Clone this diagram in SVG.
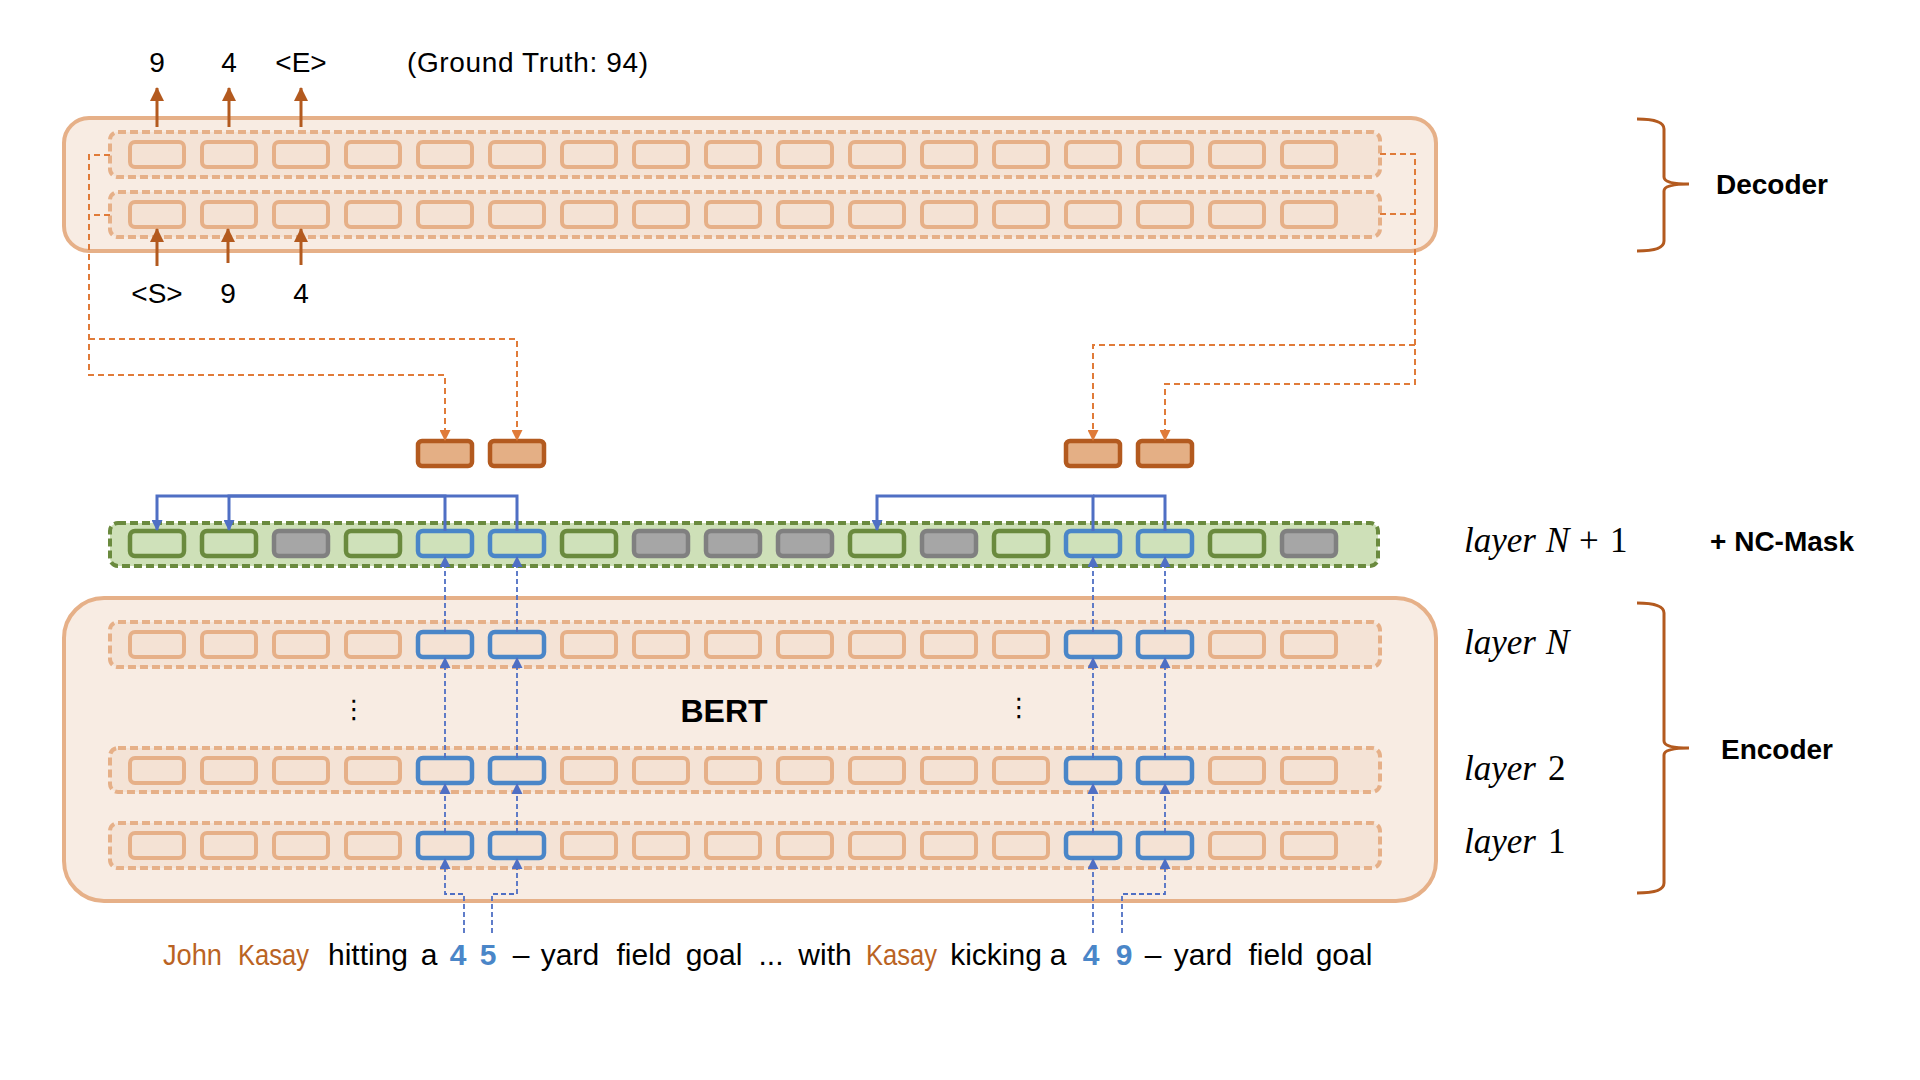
<svg xmlns="http://www.w3.org/2000/svg" width="1920" height="1080" viewBox="0 0 1920 1080">
<style>
.outer{fill:#F8ECE3;stroke:#E6B088;stroke-width:4}
.row{fill:#F4E3D6;stroke:#E6B088;stroke-width:4;stroke-dasharray:8 4}
.grow{fill:#CEE0B8;stroke:#6A8A3E;stroke-width:4;stroke-dasharray:8 4}
.c{fill:#F4E2D4;stroke:#E6B088;stroke-width:4}
.cb{fill:#F4E2D4;stroke:#4A86C8;stroke-width:4.5}
.cg{fill:#CFE1BA;stroke:#6A8A3E;stroke-width:4.5}
.cgb{fill:#CFE1BA;stroke:#4A86C8;stroke-width:4.5}
.cy{fill:#A6A6A6;stroke:#808080;stroke-width:4.5}
.ob{fill:#E4AF85;stroke:#B35A1F;stroke-width:4.5}
.t{font-family:"Liberation Sans",Arial,sans-serif;fill:#000}
.tb{font-family:"Liberation Sans",Arial,sans-serif;font-weight:bold;fill:#000}
.m{font-family:"Liberation Serif","Times New Roman",serif;fill:#000;font-size:35px}
.or{fill:#BA6323}
.nb{fill:#4A86C8}
.dk{fill:none;stroke:#B35A1F;stroke-width:3}
.od{fill:none;stroke:#E07B39;stroke-width:2;stroke-dasharray:6 4}
.bl{fill:none;stroke:#4F6FC4;stroke-width:3}
.bd{fill:none;stroke:#4F6FC4;stroke-width:1.8;stroke-dasharray:5 3}
</style>
<defs>
<marker id="aDk" markerUnits="userSpaceOnUse" markerWidth="14" markerHeight="14" refX="13" refY="7" orient="auto" viewBox="0 0 14 14"><path d="M0,0 L14,7 L0,14 z" fill="#B35A1F"/></marker>
<marker id="aOr" markerUnits="userSpaceOnUse" markerWidth="11" markerHeight="11" refX="10" refY="5.5" orient="auto" viewBox="0 0 11 11"><path d="M0,0 L11,5.5 L0,11 z" fill="#E07B39"/></marker>
<marker id="aBl" markerUnits="userSpaceOnUse" markerWidth="11" markerHeight="11" refX="10" refY="5.5" orient="auto" viewBox="0 0 11 11"><path d="M0,0 L11,5.5 L0,11 z" fill="#4F6FC4"/></marker>
</defs>
<rect width="1920" height="1080" fill="#FFFFFF"/>

<g id="decoder">
<rect class="outer" x="64" y="118" width="1372" height="133" rx="25"/>
<rect class="row" x="110" y="132" width="1270" height="45" rx="8"/>
<rect class="row" x="110" y="192" width="1270" height="45" rx="8"/>
<g id="dec-row-top">
<rect class="c" x="130" y="142" width="54" height="25" rx="5"/><rect class="c" x="202" y="142" width="54" height="25" rx="5"/><rect class="c" x="274" y="142" width="54" height="25" rx="5"/><rect class="c" x="346" y="142" width="54" height="25" rx="5"/><rect class="c" x="418" y="142" width="54" height="25" rx="5"/><rect class="c" x="490" y="142" width="54" height="25" rx="5"/><rect class="c" x="562" y="142" width="54" height="25" rx="5"/><rect class="c" x="634" y="142" width="54" height="25" rx="5"/><rect class="c" x="706" y="142" width="54" height="25" rx="5"/><rect class="c" x="778" y="142" width="54" height="25" rx="5"/><rect class="c" x="850" y="142" width="54" height="25" rx="5"/><rect class="c" x="922" y="142" width="54" height="25" rx="5"/><rect class="c" x="994" y="142" width="54" height="25" rx="5"/><rect class="c" x="1066" y="142" width="54" height="25" rx="5"/><rect class="c" x="1138" y="142" width="54" height="25" rx="5"/><rect class="c" x="1210" y="142" width="54" height="25" rx="5"/><rect class="c" x="1282" y="142" width="54" height="25" rx="5"/>
</g>
<g id="dec-row-bottom">
<rect class="c" x="130" y="202" width="54" height="25" rx="5"/><rect class="c" x="202" y="202" width="54" height="25" rx="5"/><rect class="c" x="274" y="202" width="54" height="25" rx="5"/><rect class="c" x="346" y="202" width="54" height="25" rx="5"/><rect class="c" x="418" y="202" width="54" height="25" rx="5"/><rect class="c" x="490" y="202" width="54" height="25" rx="5"/><rect class="c" x="562" y="202" width="54" height="25" rx="5"/><rect class="c" x="634" y="202" width="54" height="25" rx="5"/><rect class="c" x="706" y="202" width="54" height="25" rx="5"/><rect class="c" x="778" y="202" width="54" height="25" rx="5"/><rect class="c" x="850" y="202" width="54" height="25" rx="5"/><rect class="c" x="922" y="202" width="54" height="25" rx="5"/><rect class="c" x="994" y="202" width="54" height="25" rx="5"/><rect class="c" x="1066" y="202" width="54" height="25" rx="5"/><rect class="c" x="1138" y="202" width="54" height="25" rx="5"/><rect class="c" x="1210" y="202" width="54" height="25" rx="5"/><rect class="c" x="1282" y="202" width="54" height="25" rx="5"/>
</g>
</g>

<g id="encoder">
<rect class="outer" x="64" y="598" width="1372" height="303" rx="40"/>
<rect class="row" x="110" y="622" width="1270" height="45" rx="8"/>
<rect class="row" x="110" y="748" width="1270" height="44" rx="8"/>
<rect class="row" x="110" y="823" width="1270" height="45" rx="8"/>
<g id="enc-layer-N">
<rect class="c" x="130" y="632" width="54" height="25" rx="5"/><rect class="c" x="202" y="632" width="54" height="25" rx="5"/><rect class="c" x="274" y="632" width="54" height="25" rx="5"/><rect class="c" x="346" y="632" width="54" height="25" rx="5"/><rect class="cb" x="418" y="632" width="54" height="25" rx="5"/><rect class="cb" x="490" y="632" width="54" height="25" rx="5"/><rect class="c" x="562" y="632" width="54" height="25" rx="5"/><rect class="c" x="634" y="632" width="54" height="25" rx="5"/><rect class="c" x="706" y="632" width="54" height="25" rx="5"/><rect class="c" x="778" y="632" width="54" height="25" rx="5"/><rect class="c" x="850" y="632" width="54" height="25" rx="5"/><rect class="c" x="922" y="632" width="54" height="25" rx="5"/><rect class="c" x="994" y="632" width="54" height="25" rx="5"/><rect class="cb" x="1066" y="632" width="54" height="25" rx="5"/><rect class="cb" x="1138" y="632" width="54" height="25" rx="5"/><rect class="c" x="1210" y="632" width="54" height="25" rx="5"/><rect class="c" x="1282" y="632" width="54" height="25" rx="5"/>
</g>
<g id="enc-layer-2">
<rect class="c" x="130" y="758" width="54" height="25" rx="5"/><rect class="c" x="202" y="758" width="54" height="25" rx="5"/><rect class="c" x="274" y="758" width="54" height="25" rx="5"/><rect class="c" x="346" y="758" width="54" height="25" rx="5"/><rect class="cb" x="418" y="758" width="54" height="25" rx="5"/><rect class="cb" x="490" y="758" width="54" height="25" rx="5"/><rect class="c" x="562" y="758" width="54" height="25" rx="5"/><rect class="c" x="634" y="758" width="54" height="25" rx="5"/><rect class="c" x="706" y="758" width="54" height="25" rx="5"/><rect class="c" x="778" y="758" width="54" height="25" rx="5"/><rect class="c" x="850" y="758" width="54" height="25" rx="5"/><rect class="c" x="922" y="758" width="54" height="25" rx="5"/><rect class="c" x="994" y="758" width="54" height="25" rx="5"/><rect class="cb" x="1066" y="758" width="54" height="25" rx="5"/><rect class="cb" x="1138" y="758" width="54" height="25" rx="5"/><rect class="c" x="1210" y="758" width="54" height="25" rx="5"/><rect class="c" x="1282" y="758" width="54" height="25" rx="5"/>
</g>
<g id="enc-layer-1">
<rect class="c" x="130" y="833" width="54" height="25" rx="5"/><rect class="c" x="202" y="833" width="54" height="25" rx="5"/><rect class="c" x="274" y="833" width="54" height="25" rx="5"/><rect class="c" x="346" y="833" width="54" height="25" rx="5"/><rect class="cb" x="418" y="833" width="54" height="25" rx="5"/><rect class="cb" x="490" y="833" width="54" height="25" rx="5"/><rect class="c" x="562" y="833" width="54" height="25" rx="5"/><rect class="c" x="634" y="833" width="54" height="25" rx="5"/><rect class="c" x="706" y="833" width="54" height="25" rx="5"/><rect class="c" x="778" y="833" width="54" height="25" rx="5"/><rect class="c" x="850" y="833" width="54" height="25" rx="5"/><rect class="c" x="922" y="833" width="54" height="25" rx="5"/><rect class="c" x="994" y="833" width="54" height="25" rx="5"/><rect class="cb" x="1066" y="833" width="54" height="25" rx="5"/><rect class="cb" x="1138" y="833" width="54" height="25" rx="5"/><rect class="c" x="1210" y="833" width="54" height="25" rx="5"/><rect class="c" x="1282" y="833" width="54" height="25" rx="5"/>
</g>
<text class="tb" x="724" y="722" font-size="32" text-anchor="middle">BERT</text>
<text class="t" x="354" y="718" font-size="26" text-anchor="middle" style="font-family:'DejaVu Sans',sans-serif">⋮</text>
<text class="t" x="1019" y="716" font-size="26" text-anchor="middle" style="font-family:'DejaVu Sans',sans-serif">⋮</text>
</g>

<g id="nc-mask-layer">
<rect class="grow" x="110" y="523" width="1268" height="43" rx="8"/>
<rect class="cg" x="130" y="531" width="54" height="25" rx="5"/><rect class="cg" x="202" y="531" width="54" height="25" rx="5"/><rect class="cy" x="274" y="531" width="54" height="25" rx="5"/><rect class="cg" x="346" y="531" width="54" height="25" rx="5"/><rect class="cgb" x="418" y="531" width="54" height="25" rx="5"/><rect class="cgb" x="490" y="531" width="54" height="25" rx="5"/><rect class="cg" x="562" y="531" width="54" height="25" rx="5"/><rect class="cy" x="634" y="531" width="54" height="25" rx="5"/><rect class="cy" x="706" y="531" width="54" height="25" rx="5"/><rect class="cy" x="778" y="531" width="54" height="25" rx="5"/><rect class="cg" x="850" y="531" width="54" height="25" rx="5"/><rect class="cy" x="922" y="531" width="54" height="25" rx="5"/><rect class="cg" x="994" y="531" width="54" height="25" rx="5"/><rect class="cgb" x="1066" y="531" width="54" height="25" rx="5"/><rect class="cgb" x="1138" y="531" width="54" height="25" rx="5"/><rect class="cg" x="1210" y="531" width="54" height="25" rx="5"/><rect class="cy" x="1282" y="531" width="54" height="25" rx="5"/>
</g>

<g id="span-boxes">
<rect class="ob" x="418" y="441" width="54" height="25" rx="4"/>
<rect class="ob" x="490" y="441" width="54" height="25" rx="4"/>
<rect class="ob" x="1066" y="441" width="54" height="25" rx="4"/>
<rect class="ob" x="1138" y="441" width="54" height="25" rx="4"/>
</g>

<g id="connectors">
<path class="dk" d="M157,127 V88" marker-end="url(#aDk)"/>
<path class="dk" d="M229,127 V88" marker-end="url(#aDk)"/>
<path class="dk" d="M301,127 V88" marker-end="url(#aDk)"/>
<path class="dk" d="M157,266 V229" marker-end="url(#aDk)"/>
<path class="dk" d="M228,263 V229" marker-end="url(#aDk)"/>
<path class="dk" d="M301,265 V229" marker-end="url(#aDk)"/>

<path class="od" d="M110,155 H89 V375 H445 V440" marker-end="url(#aOr)"/>
<path class="od" d="M110,215 H89"/>
<path class="od" d="M89,339 H517 V440" marker-end="url(#aOr)"/>
<path class="od" d="M1380,154 H1415 V384 H1165 V440" marker-end="url(#aOr)"/>
<path class="od" d="M1380,214 H1415"/>
<path class="od" d="M1415,345 H1093 V440" marker-end="url(#aOr)"/>

<path class="bl" d="M445,531 V496 H157 V530" marker-end="url(#aBl)"/>
<path class="bl" d="M517,531 V496 H229 V530" marker-end="url(#aBl)"/>
<path class="bl" d="M1093,531 V496 H877 V530" marker-end="url(#aBl)"/>
<path class="bl" d="M1165,531 V496 H1093"/>

<path class="bd" d="M464,933 V894 H445 V859" marker-end="url(#aBl)"/>
<path class="bd" d="M492,933 V894 H517 V859" marker-end="url(#aBl)"/>
<path class="bd" d="M1093,933 V859" marker-end="url(#aBl)"/>
<path class="bd" d="M1122,933 V894 H1165 V859" marker-end="url(#aBl)"/>
<path class="bd" d="M445,833 V784" marker-end="url(#aBl)"/>
<path class="bd" d="M517,833 V784" marker-end="url(#aBl)"/>
<path class="bd" d="M1093,833 V784" marker-end="url(#aBl)"/>
<path class="bd" d="M1165,833 V784" marker-end="url(#aBl)"/>
<path class="bd" d="M445,758 V658" marker-end="url(#aBl)"/>
<path class="bd" d="M517,758 V658" marker-end="url(#aBl)"/>
<path class="bd" d="M1093,758 V658" marker-end="url(#aBl)"/>
<path class="bd" d="M1165,758 V658" marker-end="url(#aBl)"/>
<path class="bd" d="M445,632 V557" marker-end="url(#aBl)"/>
<path class="bd" d="M517,632 V557" marker-end="url(#aBl)"/>
<path class="bd" d="M1093,632 V557" marker-end="url(#aBl)"/>
<path class="bd" d="M1165,632 V557" marker-end="url(#aBl)"/>

<path class="dk" d="M1637,119 Q1664,119 1664,129 V177 Q1664,184 1689,184 Q1664,184 1664,191 V241 Q1664,251 1637,251"/>
<path class="dk" d="M1637,603 Q1664,603 1664,613 V741 Q1664,748 1689,748 Q1664,748 1664,755 V883 Q1664,893 1637,893"/>
</g>

<g id="decoder-labels" font-size="28">
<text class="t" x="157" y="72" text-anchor="middle">9</text>
<text class="t" x="229" y="72" text-anchor="middle">4</text>
<text class="t" x="301" y="72" text-anchor="middle">&lt;E&gt;</text>
<text class="t" x="407" y="72" textLength="241">(Ground Truth: 94)</text>
<text class="t" x="157" y="303" text-anchor="middle">&lt;S&gt;</text>
<text class="t" x="228" y="303" text-anchor="middle">9</text>
<text class="t" x="301" y="303" text-anchor="middle">4</text>
</g>

<g id="side-labels">
<text class="tb" x="1772" y="194" font-size="28" text-anchor="middle">Decoder</text>
<text class="tb" x="1777" y="759" font-size="28" text-anchor="middle">Encoder</text>
<text class="tb" x="1782" y="551" font-size="28" text-anchor="middle">+ NC-Mask</text>
<text class="m" y="552"><tspan x="1464" font-style="italic">layer</tspan><tspan x="1546" font-style="italic">N</tspan><tspan x="1579">+</tspan><tspan x="1610">1</tspan></text>
<text class="m" y="654"><tspan x="1464" font-style="italic">layer</tspan><tspan x="1546" font-style="italic">N</tspan></text>
<text class="m" y="780"><tspan x="1464" font-style="italic">layer</tspan><tspan x="1548">2</tspan></text>
<text class="m" y="853"><tspan x="1464" font-style="italic">layer</tspan><tspan x="1548">1</tspan></text>
</g>

<g id="input-sentence" font-size="30">
<text class="t or" x="163" y="965" textLength="59" lengthAdjust="spacingAndGlyphs">John</text>
<text class="t or" x="238" y="965" textLength="71" lengthAdjust="spacingAndGlyphs">Kasay</text>
<text class="t" x="368" y="965" text-anchor="middle">hitting</text>
<text class="t" x="429" y="965" text-anchor="middle">a</text>
<text class="tb nb" x="458" y="965" text-anchor="middle">4</text>
<text class="tb nb" x="488" y="965" text-anchor="middle">5</text>
<text class="t" x="521" y="965" text-anchor="middle">–</text>
<text class="t" x="570" y="965" text-anchor="middle">yard</text>
<text class="t" x="644" y="965" text-anchor="middle">field</text>
<text class="t" x="714" y="965" text-anchor="middle">goal</text>
<text class="t" x="771" y="965" text-anchor="middle">...</text>
<text class="t" x="825" y="965" text-anchor="middle">with</text>
<text class="t or" x="866" y="965" textLength="71" lengthAdjust="spacingAndGlyphs">Kasay</text>
<text class="t" x="996" y="965" text-anchor="middle">kicking</text>
<text class="t" x="1058" y="965" text-anchor="middle">a</text>
<text class="tb nb" x="1091" y="965" text-anchor="middle">4</text>
<text class="tb nb" x="1124" y="965" text-anchor="middle">9</text>
<text class="t" x="1153" y="965" text-anchor="middle">–</text>
<text class="t" x="1203" y="965" text-anchor="middle">yard</text>
<text class="t" x="1276" y="965" text-anchor="middle">field</text>
<text class="t" x="1344" y="965" text-anchor="middle">goal</text>
</g>
</svg>
